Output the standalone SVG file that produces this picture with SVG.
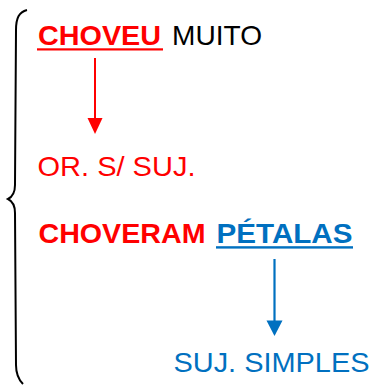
<svg xmlns="http://www.w3.org/2000/svg" width="372" height="385" viewBox="0 0 372 385">
<style>
text{font-family:"Liberation Sans",Arial,sans-serif;font-size:28.5px}
.b{font-weight:bold}
.red{fill:#FF0000}
.blue{fill:#0070C0}
.blk{fill:#000}
</style>
<rect width="372" height="385" fill="#fff"/>
<g id="brace">
<path d="M27,10 C19,12 16,18 16,30 L15,185 C15,193 12,197 8,199 C12,201 15,205 15,213 L16,365 C16,375 19,380 23,384" fill="none" stroke="#000" stroke-width="2"/>
</g>
<g id="n1">
<text class="b red" x="38" y="44.5" textLength="123" lengthAdjust="spacingAndGlyphs">CHOVEU</text>
<rect x="37" y="48.3" width="126" height="2.2" fill="#FF0000"/>
<text class="blk" x="172" y="44.5" textLength="90" lengthAdjust="spacingAndGlyphs">MUITO</text>
</g>
<g id="n2">
<text class="red" x="37.5" y="176" textLength="158" lengthAdjust="spacingAndGlyphs">OR. S/ SUJ.</text>
</g>
<g id="n3">
<text class="b red" x="38.5" y="242.5" textLength="167" lengthAdjust="spacingAndGlyphs">CHOVERAM</text>
<text class="b blue" x="216.5" y="242.5" textLength="136" lengthAdjust="spacingAndGlyphs">PÉTALAS</text>
<rect x="216" y="246.2" width="137" height="2.4" fill="#0070C0"/>
</g>
<g id="n4">
<text class="blue" x="173.5" y="372" textLength="196" lengthAdjust="spacingAndGlyphs">SUJ. SIMPLES</text>
</g>
<g id="connectors">
<line x1="95" y1="58" x2="95" y2="119" stroke="#FF0000" stroke-width="2"/>
<path d="M87.5,118 L102.5,118 L95,134 Z" fill="#FF0000"/>
<line x1="274.5" y1="259" x2="274.5" y2="322" stroke="#0070C0" stroke-width="2.2"/>
<path d="M266.5,320.5 L282.5,320.5 L274.5,336 Z" fill="#0070C0"/>
</g>
</svg>
